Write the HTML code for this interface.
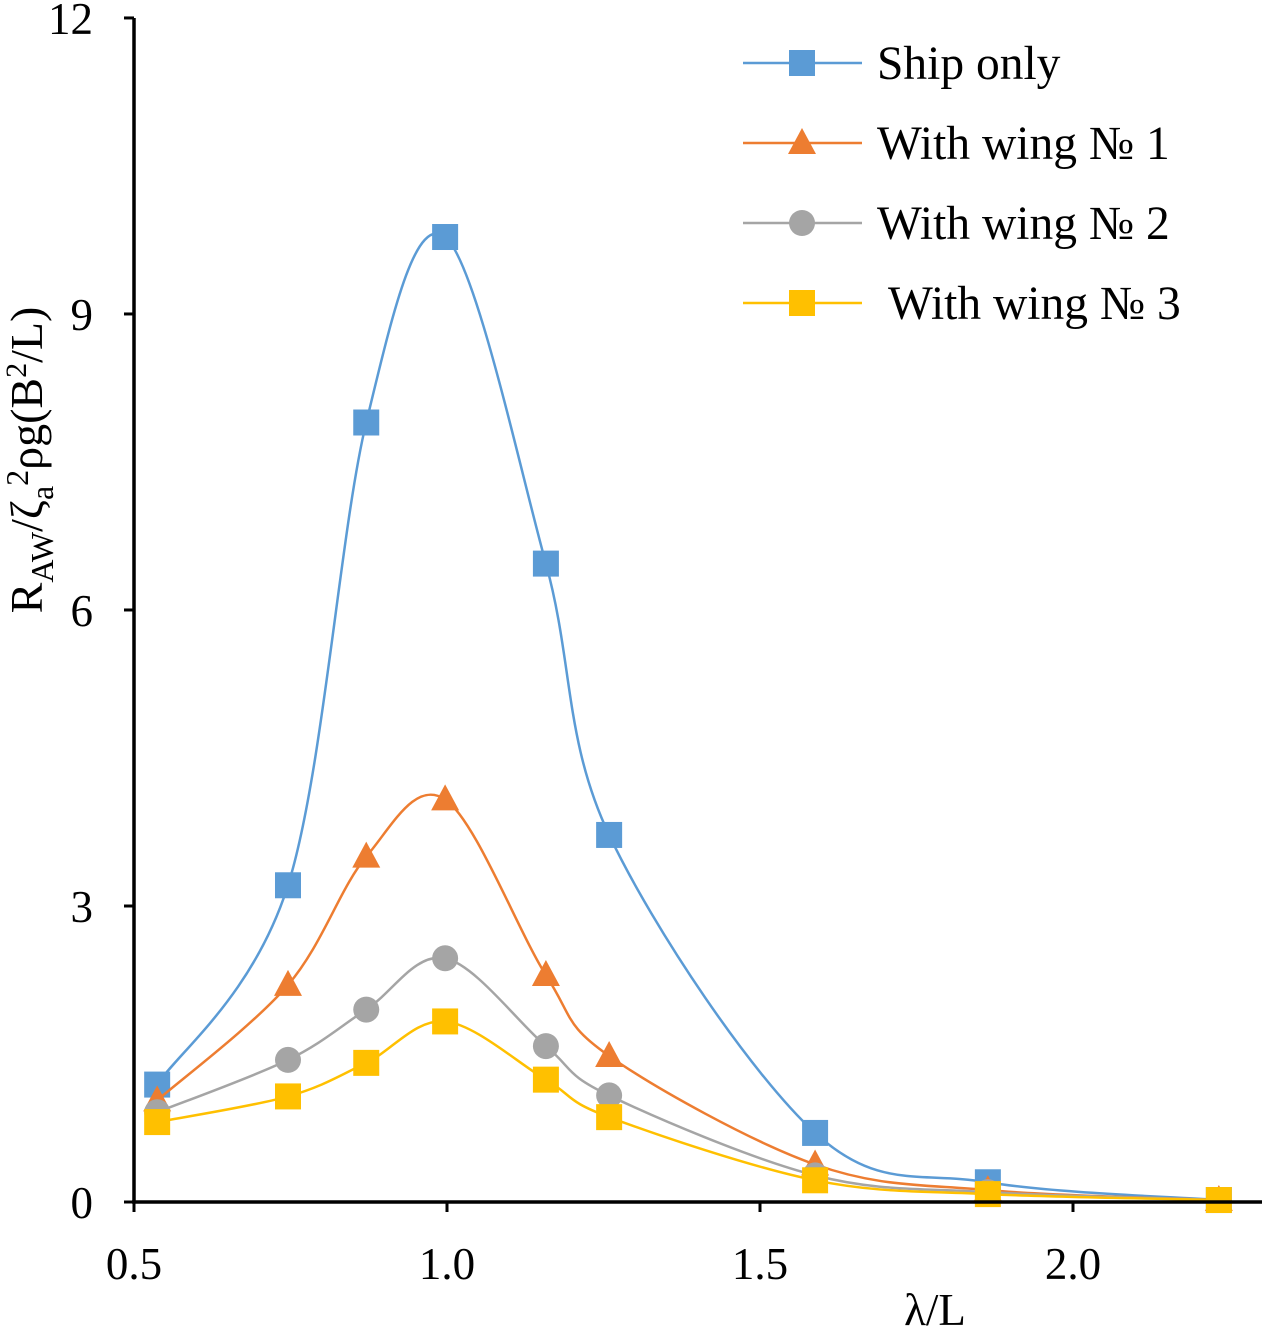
<!DOCTYPE html>
<html><head><meta charset="utf-8"><style>
html,body{margin:0;padding:0;background:#fff;}
svg{display:block;font-family:"Liberation Serif",serif;}
</style></head><body>
<svg id="chart" width="1262" height="1327" viewBox="0 0 1262 1327" xmlns="http://www.w3.org/2000/svg">
<g id="plot"></g>
<g id="axes"></g>
<g id="legend"></g>
<text x="935" y="1325" font-size="45" text-anchor="middle">λ/L</text>
<text transform="translate(42,460) rotate(-90)" font-size="46" text-anchor="middle">R<tspan font-size="32" dy="11">AW</tspan><tspan dy="-11">/ζ</tspan><tspan font-size="32" dy="11">a</tspan><tspan font-size="32" dy="-25">2</tspan><tspan dy="14">ρg(B</tspan><tspan font-size="30" dy="-16">2</tspan><tspan dy="16">/L)</tspan></text>
</svg>
<script>
const xValues=[0.537,0.746,0.871,0.997,1.158,1.259,1.588,1.864,2.233];
const shipOnly=[1.19,3.21,7.9,9.78,6.47,3.72,0.70,0.20,0.02];
const wing1=[1.03,2.2,3.5,4.08,2.3,1.48,0.38,0.12,0.02];
const wing2=[0.91,1.44,1.95,2.47,1.58,1.08,0.27,0.10,0.02];
const wing3=[0.81,1.07,1.41,1.83,1.24,0.86,0.22,0.08,0.02];
const xTicks=[0.5,1.0,1.5,2.0];
const xTickLabels=["0.5","1.0","1.5","2.0"];
const yTicks=[0,3,6,9,12];
const yTickLabels=["0","3","6","9","12"];
const seriesNames=["Ship only","With wing № 1","With wing № 2"," With wing № 3"];

const NS="http://www.w3.org/2000/svg";
const X=v=>134+(v-0.5)*626;
const Y=v=>1202-v*98.67;
function mk(tag,attrs,parent){const e=document.createElementNS(NS,tag);for(const k in attrs)e.setAttribute(k,attrs[k]);parent.appendChild(e);return e;}
const plot=document.getElementById('plot'),axes=document.getElementById('axes'),legend=document.getElementById('legend');

function smooth(pts){
  let d=`M${pts[0][0]},${pts[0][1]}`;
  for(let i=0;i<pts.length-1;i++){
    const p0=pts[Math.max(0,i-1)],p1=pts[i],p2=pts[i+1],p3=pts[Math.min(pts.length-1,i+2)];
    const t=1/6;
    const c1=[p1[0]+(p2[0]-p0[0])*t,p1[1]+(p2[1]-p0[1])*t];
    const c2=[p2[0]-(p3[0]-p1[0])*t,p2[1]-(p3[1]-p1[1])*t];
    d+=` C${c1[0]},${c1[1]} ${c2[0]},${c2[1]} ${p2[0]},${p2[1]}`;
  }
  return d;
}
function marker(type,x,y,color,parent){
  let e;
  if(type==='square'){e=mk('rect',{x:x-13,y:y-13,width:26,height:26,fill:color},parent);}
  else if(type==='tri'){e=mk('polygon',{points:`${x},${y-15} ${x+14},${y+11} ${x-14},${y+11}`,fill:color},parent);}
  else {e=mk('circle',{cx:x,cy:y,r:13,fill:color},parent);}
  return e;
}
const series=[
 {vals:shipOnly,color:'#5b9bd5',m:'square',name:'ship-only'},
 {vals:wing1,color:'#ed7d31',m:'tri',name:'wing-1'},
 {vals:wing2,color:'#a5a5a5',m:'circle',name:'wing-2'},
 {vals:wing3,color:'#ffc000',m:'square',name:'wing-3'}
];
series.forEach(s=>{
  const g=mk('g',{},plot);
  
  
  const pts=s.vals.map((v,i)=>[X(xValues[i]),Y(v)]);
  const p=mk('path',{d:smooth(pts),fill:'none',stroke:s.color,'stroke-width':2.5},g);
  
  
  pts.forEach(pt=>{const e=marker(s.m,pt[0],pt[1],s.color,g);
    
    });
});
let a=mk('line',{x1:134,y1:18,x2:134,y2:1203,stroke:'#000','stroke-width':3.5},axes);

a=mk('line',{x1:132,y1:1202,x2:1262,y2:1202,stroke:'#000','stroke-width':3.5},axes);

yTicks.forEach((v,i)=>{
  mk('line',{x1:124,y1:Y(v),x2:134,y2:Y(v),stroke:'#000','stroke-width':3},axes);
  const t=mk('text',{x:93,y:Y(v)+16,'font-size':45,'text-anchor':'end'},axes);
  t.textContent=yTickLabels[i];
  
});
xTicks.forEach((v,i)=>{
  mk('line',{x1:X(v),y1:1202,x2:X(v),y2:1212,stroke:'#000','stroke-width':3},axes);
  const t=mk('text',{x:X(v),y:1279,'font-size':45,'text-anchor':'middle'},axes);
  t.textContent=xTickLabels[i];
  
});
series.forEach((s,i)=>{
  const y=63+i*80;
  const g=mk('g',{},legend);
  
  
  mk('line',{x1:743,y1:y,x2:862,y2:y,stroke:s.color,'stroke-width':2.5},g);
  marker(s.m,802,y,s.color,g);
  const t=mk('text',{x:877,y:y+16,'font-size':47.5},g);
  t.setAttribute('style','white-space:pre');
  t.textContent=seriesNames[i];
});
</script>
</body></html>
